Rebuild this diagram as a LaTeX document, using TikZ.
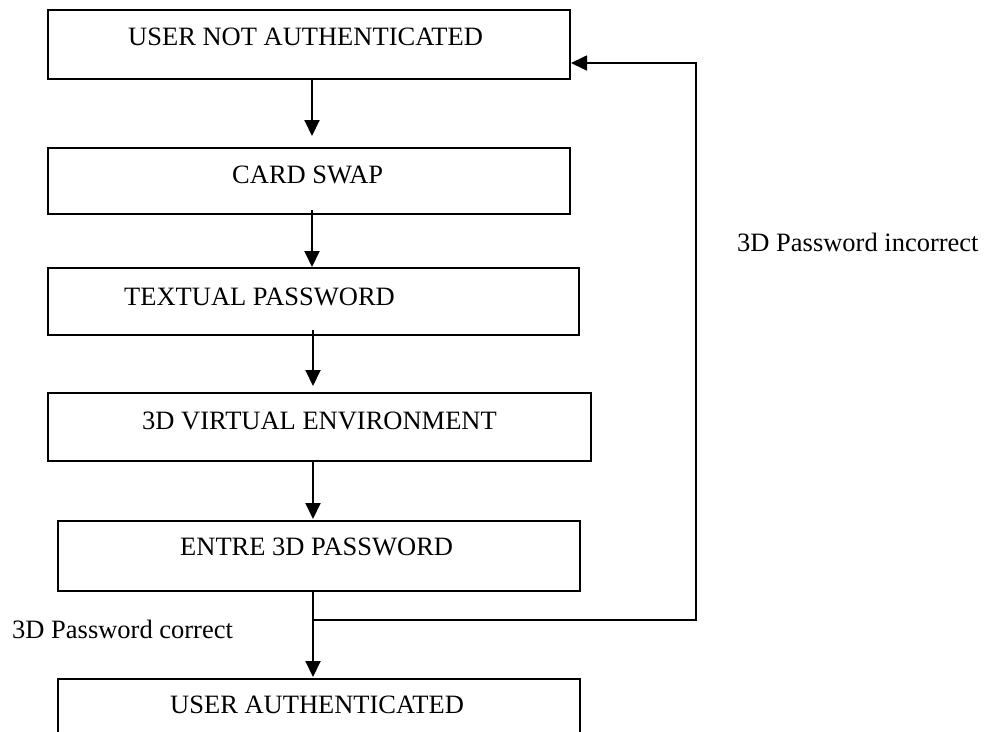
\documentclass[tikz,border=0pt]{standalone}
\usepackage{fontspec}
\setmainfont{Liberation Serif}
\usetikzlibrary{arrows.meta}
\begin{document}
\begin{tikzpicture}[x=1pt,y=-1pt,
  box/.style={draw=black,line width=2pt,rectangle,inner sep=0pt},
  txt/.style={inner sep=0pt,anchor=base west,font=\fontsize{26.5}{30}\selectfont},
  arr/.style={line width=2pt,-{Triangle[length=16pt,width=15pt]}},
  looparr/.style={line width=1.7pt,-{Triangle[length=16pt,width=15pt]}}]
\useasboundingbox (0,0) rectangle (987,731);
\clip (0,0) rectangle (987,731);
\fill[white] (0,0) rectangle (987,731);
% boxes
\node[box,minimum width=522pt,minimum height=69pt] (b1) at (309,44.5) {};
\node[box,minimum width=522pt,minimum height=66pt] (b2) at (309,181) {};
\node[box,minimum width=531pt,minimum height=67pt] (b3) at (313.5,301.5) {};
\node[box,minimum width=543pt,minimum height=68pt] (b4) at (319.5,427) {};
\node[box,minimum width=522pt,minimum height=70pt] (b5) at (319,556) {};
\node[box,minimum width=522pt,minimum height=70pt] (b6) at (319,714) {};
% texts
\node[txt] (t1) at (128,45) {USER NOT AUTHENTICATED};
\node[txt] (t2) at (232,183) {CARD SWAP};
\node[txt] (t3) at (124,305) {TEXTUAL PASSWORD};
\node[txt] (t4) at (142,429) {3D VIRTUAL ENVIRONMENT};
\node[txt] (t5) at (180,555) {ENTRE 3D PASSWORD};
\node[txt] (t6) at (170,713) {USER AUTHENTICATED};
\node[txt] (lc) at (12,638) {3D Password correct};
\node[txt] (li) at (737,251) {3D Password incorrect};
% connector columns
\coordinate (c1) at (312,0);
\coordinate (c2) at (312,0);
\coordinate (c3) at (313,0);
\coordinate (c4) at (313,0);
\coordinate (c5) at (313,0);
\coordinate (j) at (313,620);
\coordinate (r) at (696,63);
% arrows
\draw[arr,shorten >=11pt] (b1.south -| c1) -- (b2.north -| c1);
\draw[arr,shorten <=-5pt] (b2.south -| c2) -- (b3.north -| c2);
\draw[arr,shorten <=-6pt,shorten >=6pt] (b3.south -| c3) -- (b4.north -| c3);
\draw[arr,shorten >=1pt] (b4.south -| c4) -- (b5.north -| c4);
\draw[arr,shorten >=1pt] (b5.south -| c5) -- (b6.north -| c5);
\draw[looparr] (j) -| (r) -- (b1.east |- r);
\end{tikzpicture}
\end{document}
